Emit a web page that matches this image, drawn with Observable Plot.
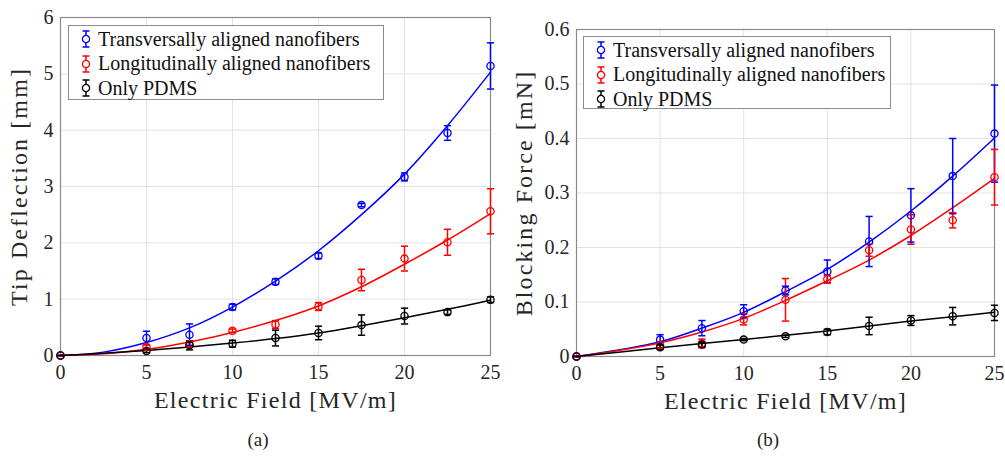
<!DOCTYPE html>
<html>
<head>
<meta charset="utf-8">
<script src="https://cdn.jsdelivr.net/npm/d3@7"></script>
<script src="https://cdn.jsdelivr.net/npm/@observablehq/plot@0.6"></script>
<style>
  html, body { margin: 0; padding: 0; background: #fff; }
  #page { position: relative; width: 1005px; height: 458px; overflow: hidden; font-family: "Liberation Serif", "Times New Roman", serif; color: #262626; }
  .panel { position: absolute; top: 0; }
  .panel svg { overflow: visible; }
  .panel svg text { font-family: "Liberation Serif", "Times New Roman", serif; }
  .panel g[aria-label="x-axis label"] text { font-size: 24px; letter-spacing: 1.3px; }
  .panel g[aria-label="y-axis label"] text { font-size: 24px; letter-spacing: 2.1px; }
  .caption { position: absolute; font-size: 19px; width: 60px; text-align: center; }
  .legend { position: absolute; background: #fff; border: 1px solid #8c8c8c; box-sizing: border-box; font-size: 20px; color: #111; }
  .legend .row { position: absolute; left: 0; height: 25px; display: flex; align-items: center; white-space: nowrap; }
  .legend svg { display: block; margin-left: 10px; margin-right: 5px; }
</style>
</head>
<body>
<div id="page"></div>
<script>
// Electric field levels of the measurements and of the fitted curves (MV/m)
const field = [0, 5, 7.5, 10, 12.5, 15, 17.5, 20, 22.5, 25];
const fitField = [0, 2.5, 5, 7.5, 10, 12.5, 15, 17.5, 20, 22.5, 25];
const fieldTicks = [0, 5, 10, 15, 20, 25];

// Series names and colours
const seriesNames = ["Transversally aligned nanofibers", "Longitudinally aligned nanofibers", "Only PDMS"];
const seriesColors = ["#0000ff", "#ff0000", "#000000"];

// (a) Tip deflection [mm]: means, standard deviations, fitted curves
const deflTrans = [0, 0.31, 0.37, 0.86, 1.31, 1.77, 2.67, 3.17, 3.95, 5.14];
const deflTransErr = [0, 0.12, 0.19, 0.05, 0.05, 0.05, 0.03, 0.07, 0.13, 0.41];
const deflLong = [0, 0.15, 0.20, 0.44, 0.55, 0.87, 1.34, 1.72, 2.01, 2.56];
const deflLongErr = [0, 0.04, 0.05, 0.03, 0.07, 0.07, 0.19, 0.22, 0.23, 0.40];
const deflPdms = [0, 0.08, 0.18, 0.21, 0.31, 0.40, 0.54, 0.70, 0.77, 0.99];
const deflPdmsErr = [0, 0.03, 0.08, 0.06, 0.14, 0.12, 0.18, 0.14, 0.04, 0.05];
const deflTransFit = [0, 0.06, 0.23, 0.49, 0.86, 1.32, 1.86, 2.50, 3.22, 4.08, 5.03];
const deflLongFit = [0, 0.03, 0.11, 0.24, 0.41, 0.62, 0.88, 1.22, 1.62, 2.05, 2.52];
const deflPdmsFit = [0, 0.04, 0.09, 0.15, 0.22, 0.30, 0.40, 0.53, 0.67, 0.82, 0.98];
const deflTicks = [0, 1, 2, 3, 4, 5, 6];

// (b) Blocking force [mN]: means, standard deviations, fitted curves
const forceTrans = [0, 0.031, 0.052, 0.083, 0.121, 0.156, 0.211, 0.259, 0.331, 0.409];
const forceTransErr = [0, 0.009, 0.014, 0.012, 0.008, 0.021, 0.046, 0.049, 0.069, 0.089];
const forceLong = [0, 0.021, 0.024, 0.068, 0.104, 0.142, 0.195, 0.233, 0.250, 0.329];
const forceLongErr = [0, 0.006, 0.008, 0.010, 0.039, 0.007, 0.011, 0.027, 0.014, 0.051];
const forcePdms = [0, 0.017, 0.022, 0.031, 0.037, 0.045, 0.056, 0.066, 0.074, 0.080];
const forcePdmsErr = [0, 0.004, 0.004, 0.002, 0.002, 0.005, 0.016, 0.009, 0.016, 0.014];
const forceTransFit = [0, 0.012, 0.027, 0.052, 0.081, 0.119, 0.160, 0.210, 0.267, 0.331, 0.401];
const forceLongFit = [0, 0.011, 0.025, 0.045, 0.070, 0.103, 0.139, 0.177, 0.222, 0.273, 0.327];
const forcePdmsFit = [0, 0.008, 0.016, 0.024, 0.031, 0.039, 0.047, 0.056, 0.065, 0.073, 0.081];
const forceTicks = [0, 0.1, 0.2, 0.3, 0.4, 0.5, 0.6];

// Horizontal cap drawn at the ends of each error bar
const capSymbol = {
  draw(context, size) {
    const w = Math.sqrt(size / Math.PI);
    context.moveTo(-w, 0);
    context.lineTo(w, 0);
  }
};

function buildRows(means, errs) {
  return means.flatMap((vals, s) => vals.map((v, i) => ({
    series: seriesNames[s], color: seriesColors[s], E: field[i], v, lo: v - errs[s][i], hi: v + errs[s][i]
  })));
}
function buildFits(fits) {
  return fits.flatMap((vals, s) => vals.map((v, i) => ({series: seriesNames[s], color: seriesColors[s], E: fitField[i], v})));
}

function panel({rows, fits, yDomain, yTicks, yLabel, width, marginLeft, marginRight, marginTop, marginBottom, yLabelOffset}) {
  return Plot.plot({
    width,
    height: 420,
    marginLeft,
    marginRight,
    marginTop,
    marginBottom,
    style: {fontFamily: "'Liberation Serif', 'Times New Roman', serif", fontSize: "20px", color: "#262626", background: "transparent"},
    x: {domain: [0, 25], ticks: fieldTicks},
    y: {domain: yDomain, ticks: yTicks},
    marks: [
      Plot.gridX(fieldTicks, {stroke: "#e3e3e3", strokeOpacity: 1, strokeWidth: 1}),
      Plot.gridY(yTicks, {stroke: "#e3e3e3", strokeOpacity: 1, strokeWidth: 1}),
      Plot.frame({stroke: "#8a8a8a", strokeWidth: 1.2}),
      Plot.axisX({ticks: fieldTicks, tickSize: 0, tickPadding: 9, label: "Electric Field [MV/m]", labelAnchor: "center", labelArrow: "none", labelOffset: 52}),
      Plot.axisY({ticks: yTicks, tickSize: 0, tickPadding: 7, tickFormat: d => String(d), label: yLabel, labelAnchor: "center", labelArrow: "none", labelOffset: yLabelOffset}),
      Plot.line(fits, {x: "E", y: "v", z: "series", stroke: "color", strokeWidth: 1.5, curve: "catmull-rom"}),
      Plot.ruleX(rows, {x: "E", y1: "lo", y2: "hi", stroke: "color", strokeWidth: 1.5}),
      Plot.dot(rows, {x: "E", y: "lo", symbol: capSymbol, r: 3.6, stroke: "color", strokeWidth: 1.5}),
      Plot.dot(rows, {x: "E", y: "hi", symbol: capSymbol, r: 3.6, stroke: "color", strokeWidth: 1.5}),
      Plot.dot(rows, {x: "E", y: "v", r: 3.6, stroke: "color", fill: "none", strokeWidth: 1.3})
    ]
  });
}

function legend(left, top, width, height) {
  const box = document.createElement("div");
  box.className = "legend";
  Object.assign(box.style, {left: left + "px", top: top + "px", width: width + "px", height: height + "px"});
  seriesNames.forEach((name, i) => {
    const row = document.createElement("div");
    row.className = "row";
    row.style.top = (0.5 + i * 24.5) + "px";
    const c = seriesColors[i];
    row.innerHTML = `<svg width="14" height="22" viewBox="-7 -11 14 22">
      <line x1="0" x2="0" y1="-8" y2="8" stroke="${c}" stroke-width="1.5"/>
      <line x1="-3.5" x2="3.5" y1="-8" y2="-8" stroke="${c}" stroke-width="1.5"/>
      <line x1="-3.5" x2="3.5" y1="8" y2="8" stroke="${c}" stroke-width="1.5"/>
      <circle r="3.6" fill="#fff" stroke="${c}" stroke-width="1.3"/></svg><span>${name}</span>`;
    box.appendChild(row);
  });
  return box;
}

const page = document.getElementById("page");

const a = document.createElement("div");
a.className = "panel";
a.style.left = "0px";
a.appendChild(panel({
  rows: buildRows([deflTrans, deflLong, deflPdms], [deflTransErr, deflLongErr, deflPdmsErr]),
  fits: buildFits([deflTransFit, deflLongFit, deflPdmsFit]),
  yDomain: [0, 6], yTicks: deflTicks, yLabel: "Tip Deflection [mm]",
  width: 500, marginLeft: 60, marginRight: 10, marginTop: 17, marginBottom: 65, yLabelOffset: 51
}));
page.appendChild(a);

const b = document.createElement("div");
b.className = "panel";
b.style.left = "500px";
b.appendChild(panel({
  rows: buildRows([forceTrans, forceLong, forcePdms], [forceTransErr, forceLongErr, forcePdmsErr]),
  fits: buildFits([forceTransFit, forceLongFit, forcePdmsFit]),
  yDomain: [0, 0.6], yTicks: forceTicks, yLabel: "Blocking Force [mN]",
  width: 505, marginLeft: 76, marginRight: 11, marginTop: 29, marginBottom: 64, yLabelOffset: 62
}));
page.appendChild(b);

page.appendChild(legend(68, 25, 316, 75));
page.appendChild(legend(583, 36, 308, 73));

const capA = document.createElement("div");
capA.className = "caption"; capA.textContent = "(a)";
Object.assign(capA.style, {left: "228px", top: "429px"});
page.appendChild(capA);
const capB = document.createElement("div");
capB.className = "caption"; capB.textContent = "(b)";
Object.assign(capB.style, {left: "738px", top: "429px"});
page.appendChild(capB);
</script>
</body>
</html>
